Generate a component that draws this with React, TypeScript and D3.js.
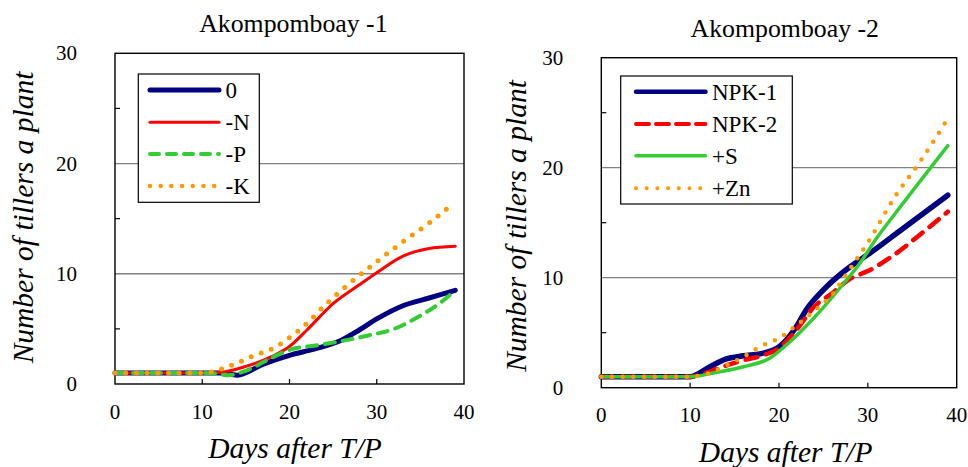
import React from "react";
import * as d3 from "d3";

type Pt = [number, number];

// ---------- data ----------
const xTicks = [0, 10, 20, 30, 40];
const yTicks = [0, 10, 20, 30];
const yMinorTicks = [5, 15, 25];
const xInnerTicks = [10, 20, 30];
const gridValues = [10, 20];

const titles = ["Akompomboay -1", "Akompomboay -2"];
const xTitle = "Days after T/P";
const yTitle = "Number of tillers a plant";

// Panel 1
const p1Names = ["0", "-N", "-P", "-K"];
const p1Zero: Pt[] = [[0, 1], [5, 1], [10, 1], [12, 1], [14, 0.8], [17, 1.8], [20, 2.6], [23, 3.2], [26, 4.0], [28, 4.9], [30, 5.9], [33, 7.1], [36, 7.8], [39, 8.5]];
const p1N: Pt[] = [[0, 1], [5, 1], [10, 1], [12, 1.05], [15, 1.6], [18, 2.5], [20, 3.4], [22, 4.9], [25, 7.3], [28, 9.0], [30, 10.1], [33, 11.6], [36, 12.3], [39, 12.5]];
const p1P: Pt[] = [[0, 1], [5, 1], [10, 1], [11.5, 0.95], [13, 0.8], [15, 1.2], [18, 2.4], [20, 3.1], [23, 3.5], [26, 3.9], [29, 4.4], [32, 5.0], [35, 6.2], [37, 7.2], [39, 8.5]];
const p1K: Pt[] = [[0, 1], [5, 1], [10, 1], [12, 1.3], [14, 1.9], [16, 2.6], [18, 3.2], [20, 4.2], [22, 5.5], [24, 7.1], [27, 9.2], [30, 11.1], [33, 12.9], [36, 14.6], [38.5, 16.2]];

// Panel 2
const p2Names = ["NPK-1", "NPK-2", "+S", "+Zn"];
const p2NPK1: Pt[] = [[0, 1], [5, 1], [10, 1], [12, 1.8], [14, 2.6], [16, 2.9], [18, 3.1], [20, 3.7], [22, 5.6], [23, 7.0], [25, 8.9], [28, 11.0], [30, 12.1], [34, 14.5], [39, 17.5]];
const p2NPK2: Pt[] = [[0, 1], [5, 1], [10, 1], [12, 1.4], [14, 2.0], [16, 2.5], [18, 2.9], [20, 3.6], [22, 5.3], [24, 7.4], [26, 8.6], [28, 9.9], [30, 10.6], [33, 12.1], [36, 14.0], [39, 16.0]];
const p2S: Pt[] = [[0, 1], [5, 1], [10, 1], [13, 1.4], [16, 1.9], [19, 2.7], [21, 4.0], [24, 6.4], [27, 9.2], [29, 11.2], [31, 13.6], [34, 16.8], [39, 22.0]];
const p2Zn: Pt[] = [[0, 1], [5, 1], [10, 1], [12, 1.3], [14, 2.0], [16, 2.8], [18, 3.8], [20, 4.5], [22, 5.7], [24, 7.0], [26, 8.5], [28, 10.8], [30, 13.2], [33, 17.3], [36, 20.7], [38.8, 24.2]];

// ---------- styles ----------
const NAVY = "#000080";
const RED = "#FF0000";
const GREEN = "#33CC33";
const ORANGE = "#FF9900";
const FONT = "Liberation Serif, Tinos, Times New Roman, Times, DejaVu Serif, serif";

type Style = { color: string; width: number; dash?: string; legendDash?: string; legendWidth?: number };

const p1Styles: Style[] = [
  { color: NAVY, width: 5, legendWidth: 5 },
  { color: RED, width: 3, legendWidth: 3 },
  { color: GREEN, width: 4, dash: "10 8", legendDash: "9 8", legendWidth: 4 },
  { color: ORANGE, width: 5, dash: "0 10.7", legendDash: "0 10.7", legendWidth: 4.5 },
];
const p2Styles: Style[] = [
  { color: NAVY, width: 5.5, legendWidth: 4.5 },
  { color: RED, width: 4.5, dash: "12 9", legendDash: "13 7", legendWidth: 4 },
  { color: GREEN, width: 3.5, legendWidth: 3.5 },
  { color: ORANGE, width: 4.5, dash: "0 10.7", legendDash: "0 10.7", legendWidth: 4 },
];

type PanelCfg = {
  title: string;
  left: number; right: number; top: number; bottom: number;
  titleX: number; titleY: number;
  yLabelX: number; yLabelCY: number;
  xTitleX: number; xTitleY: number;
  legend: { x0: number; y0: number; x1: number; y1: number; lineX0: number; lineX1: number; rows: number[]; textX: number };
  names: string[];
  series: Pt[][];
  styles: Style[];
};

const panels: PanelCfg[] = [
  {
    title: titles[0],
    left: 115, right: 464, top: 53.3, bottom: 384,
    titleX: 293.4, titleY: 32.3,
    yLabelX: 33.3, yLabelCY: 217.5,
    xTitleX: 295, xTitleY: 458.3,
    legend: { x0: 138.3, y0: 74, x1: 259.3, y1: 202.3, lineX0: 150, lineX1: 219, rows: [90, 122.3, 154, 186], textX: 225.5 },
    names: p1Names,
    series: [p1Zero, p1N, p1P, p1K],
    styles: p1Styles,
  },
  {
    title: titles[1],
    left: 601.3, right: 956.7, top: 57.7, bottom: 387.7,
    titleX: 784.8, titleY: 37.3,
    yLabelX: 526, yLabelCY: 226,
    xTitleX: 785.7, xTitleY: 461.7,
    legend: { x0: 620.7, y0: 76, x1: 792.3, y1: 204, lineX0: 636, lineX1: 705.5, rows: [91.7, 124, 155.7, 188.3], textX: 712 },
    names: p2Names,
    series: [p2NPK1, p2NPK2, p2S, p2Zn],
    styles: p2Styles,
  },
];

const txt = (size: number, italic = false): React.CSSProperties => ({
  fontFamily: FONT,
  fontSize: size + "px",
  fontStyle: italic ? "italic" : "normal",
});

function Panel({ cfg }: { cfg: PanelCfg }) {
  const x = d3.scaleLinear().domain([0, 40]).range([cfg.left, cfg.right]);
  const y = d3.scaleLinear().domain([0, 30]).range([cfg.bottom, cfg.top]);
  const line = d3
    .line<Pt>()
    .x((d) => x(d[0]))
    .y((d) => y(d[1]))
    .curve(d3.curveMonotoneX);
  const lg = cfg.legend;
  const tick = 5;
  return (
    <g>
      <text x={cfg.titleX} y={cfg.titleY} textAnchor="middle" style={txt(25.8)} fill="#000">
        {cfg.title}
      </text>
      {gridValues.map((v) => (
        <line key={"g" + v} x1={cfg.left} x2={cfg.right} y1={y(v)} y2={y(v)} stroke="#808080" strokeWidth={1.3} />
      ))}
      {yMinorTicks.map((v) => (
        <line key={"ym" + v} x1={cfg.left} x2={cfg.left + tick} y1={y(v)} y2={y(v)} stroke="#000" strokeWidth={1.2} />
      ))}
      {xInnerTicks.map((v) => (
        <line key={"xm" + v} x1={x(v)} x2={x(v)} y1={cfg.bottom} y2={cfg.bottom - tick} stroke="#000" strokeWidth={1.2} />
      ))}
      <rect x={cfg.left} y={cfg.top} width={cfg.right - cfg.left} height={cfg.bottom - cfg.top} fill="none" stroke="#000" strokeWidth={1.4} />
      {yTicks.map((v) => (
        <text key={"yt" + v} x={cfg.left - 38} y={y(v) + 7} textAnchor="end" style={txt(21)} fill="#000">
          {v}
        </text>
      ))}
      {xTicks.map((v) => (
        <text key={"xt" + v} x={x(v)} y={cfg.bottom + 34.5} textAnchor="middle" style={txt(21)} fill="#000">
          {v}
        </text>
      ))}
      <text x={cfg.xTitleX} y={cfg.xTitleY} textAnchor="middle" style={txt(29.5, true)} fill="#000">
        {xTitle}
      </text>
      <text
        transform={`translate(${cfg.yLabelX},${cfg.yLabelCY}) rotate(-90)`}
        textAnchor="middle"
        style={txt(29.5, true)}
        fill="#000"
      >
        {yTitle}
      </text>
      {cfg.series.map((s, i) => {
        const st = cfg.styles[i];
        return (
          <path
            key={"s" + i}
            d={line(s) || ""}
            fill="none"
            stroke={st.color}
            strokeWidth={st.width}
            strokeDasharray={st.dash}
            strokeLinecap="round"
            strokeLinejoin="round"
          />
        );
      })}
      <rect x={lg.x0} y={lg.y0} width={lg.x1 - lg.x0} height={lg.y1 - lg.y0} fill="#fff" stroke="#000" strokeWidth={1.2} />
      {cfg.names.map((n, i) => {
        const st = cfg.styles[i];
        return (
          <g key={"l" + i}>
            <line
              x1={lg.lineX0}
              x2={lg.lineX1}
              y1={lg.rows[i]}
              y2={lg.rows[i]}
              stroke={st.color}
              strokeWidth={st.legendWidth ?? st.width}
              strokeDasharray={st.legendDash}
              strokeLinecap="round"
            />
            <text x={lg.textX} y={lg.rows[i] + 8} style={txt(23)} fill="#000">
              {n}
            </text>
          </g>
        );
      })}
    </g>
  );
}

export default function App() {
  return (
    <svg
      width={968}
      height={467}
      viewBox="0 0 968 467"
      style={{ position: "absolute", left: 0, top: 0, background: "#fff" }}
    >
      <rect x={0} y={0} width={968} height={467} fill="#fff" />
      {panels.map((p, i) => (
        <Panel key={i} cfg={p} />
      ))}
    </svg>
  );
}
